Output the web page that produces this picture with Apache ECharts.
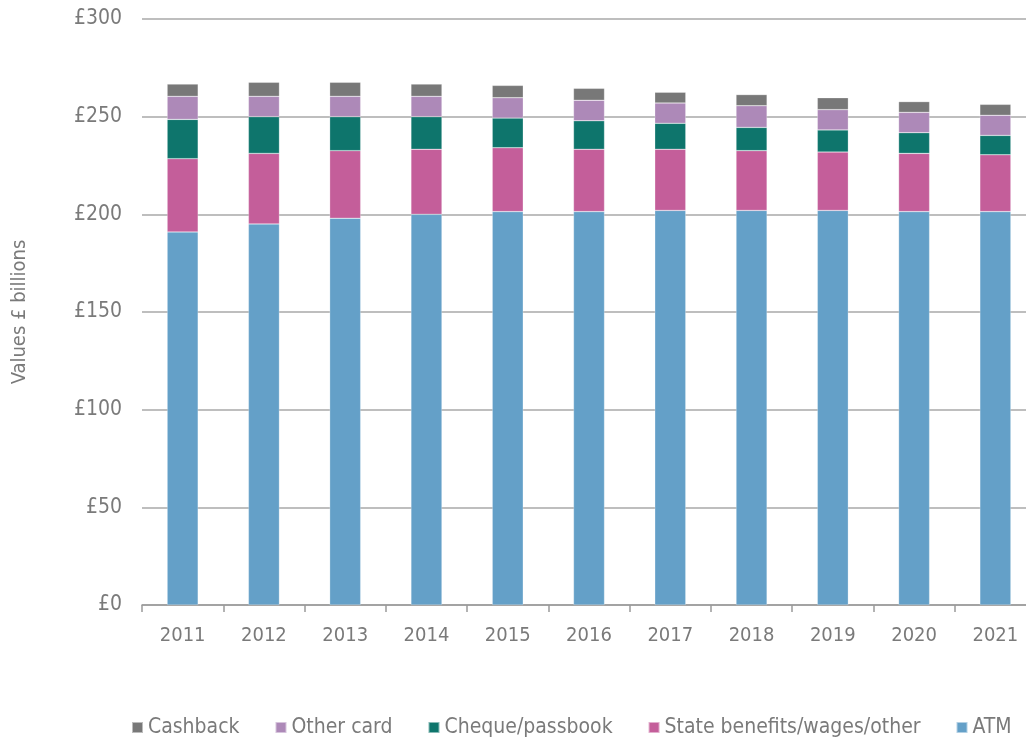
<!DOCTYPE html>
<html>
<head>
<meta charset="utf-8">
<script src="https://cdn.jsdelivr.net/npm/echarts@6/dist/echarts.min.js"></script>
<style>
  html, body { margin: 0; padding: 0; background: #fff; }
  #chart { width: 1026px; height: 741px; }
</style>
</head>
<body>
<div id="chart"></div>
<script>
// values in £ billions
var years = ['2011', '2012', '2013', '2014', '2015', '2016', '2017', '2018', '2019', '2020', '2021'];
var atm = [191.0, 195.1, 198.0, 200.0, 201.4, 201.4, 202.0, 202.0, 202.0, 201.4, 201.4];
var stateBenefits = [37.5, 36.1, 34.6, 33.3, 32.7, 31.9, 31.3, 30.6, 29.9, 29.8, 29.1];
var cheque = [20.1, 18.8, 17.4, 16.7, 15.2, 14.6, 13.3, 11.9, 11.3, 10.6, 9.9];
var otherCard = [11.8, 10.4, 10.4, 10.4, 10.4, 10.5, 10.4, 11.1, 10.4, 10.4, 10.3];
var cashback = [6.3, 7.2, 7.2, 6.3, 6.3, 6.1, 5.5, 5.7, 6.1, 5.5, 5.6];
var yTicks = [0, 50, 100, 150, 200, 250, 300];

var textColor = '#7a7a7a';
var fontName = "'Liberation Sans Narrow', 'DejaVu Sans Condensed', sans-serif";

var myChart = echarts.init(document.getElementById('chart'));

function bar(name, data, color) {
  return {
    name: name,
    type: 'bar',
    stack: 'total',
    barWidth: 31,
    data: data,
    itemStyle: { color: color, borderColor: 'rgba(255,255,255,0.5)', borderWidth: 0.5 }
  };
}

var option = {
  animation: false,
  textStyle: { fontFamily: fontName },
  // plot runs past the right edge of the picture, as in the original crop
  grid: { left: 142, width: 894, top: 19, bottom: 136, outerBoundsMode: 'none' },
  legend: {
    top: 717,
    left: 131,
    padding: 0,
    itemWidth: 11,
    itemHeight: 11,
    itemGap: 35,
    icon: 'rect',
    textStyle: { color: textColor, fontSize: 21, fontFamily: fontName },
    data: ['Cashback', 'Other card', 'Cheque/passbook', 'State benefits/wages/other', 'ATM']
  },
  xAxis: {
    type: 'category',
    data: years,
    axisLine: { lineStyle: { color: '#9a9a9a', width: 1.5 } },
    axisTick: { show: true, length: 7, lineStyle: { color: '#9a9a9a', width: 1.5 } },
    axisLabel: { color: textColor, fontSize: 20, margin: 21, fontFamily: fontName }
  },
  yAxis: {
    type: 'value',
    min: yTicks[0],
    max: yTicks[yTicks.length - 1],
    interval: 50,
    name: 'Values £ billions',
    nameLocation: 'middle',
    nameGap: 112,
    nameTextStyle: { color: textColor, fontSize: 20, fontFamily: fontName },
    axisLine: { show: false },
    axisTick: { show: false },
    axisLabel: {
      color: textColor, fontSize: 21, margin: 20, fontFamily: fontName,
      formatter: function (v) { return '£' + v; }
    },
    splitLine: { lineStyle: { color: '#a8a8a8', width: 1.5 } }
  },
  series: [
    bar('ATM', atm, '#64a0c8'),
    bar('State benefits/wages/other', stateBenefits, '#c45e9a'),
    bar('Cheque/passbook', cheque, '#0e756c'),
    bar('Other card', otherCard, '#ad89b8'),
    bar('Cashback', cashback, '#787878')
  ]
};

myChart.setOption(option);
</script>
</body>
</html>
